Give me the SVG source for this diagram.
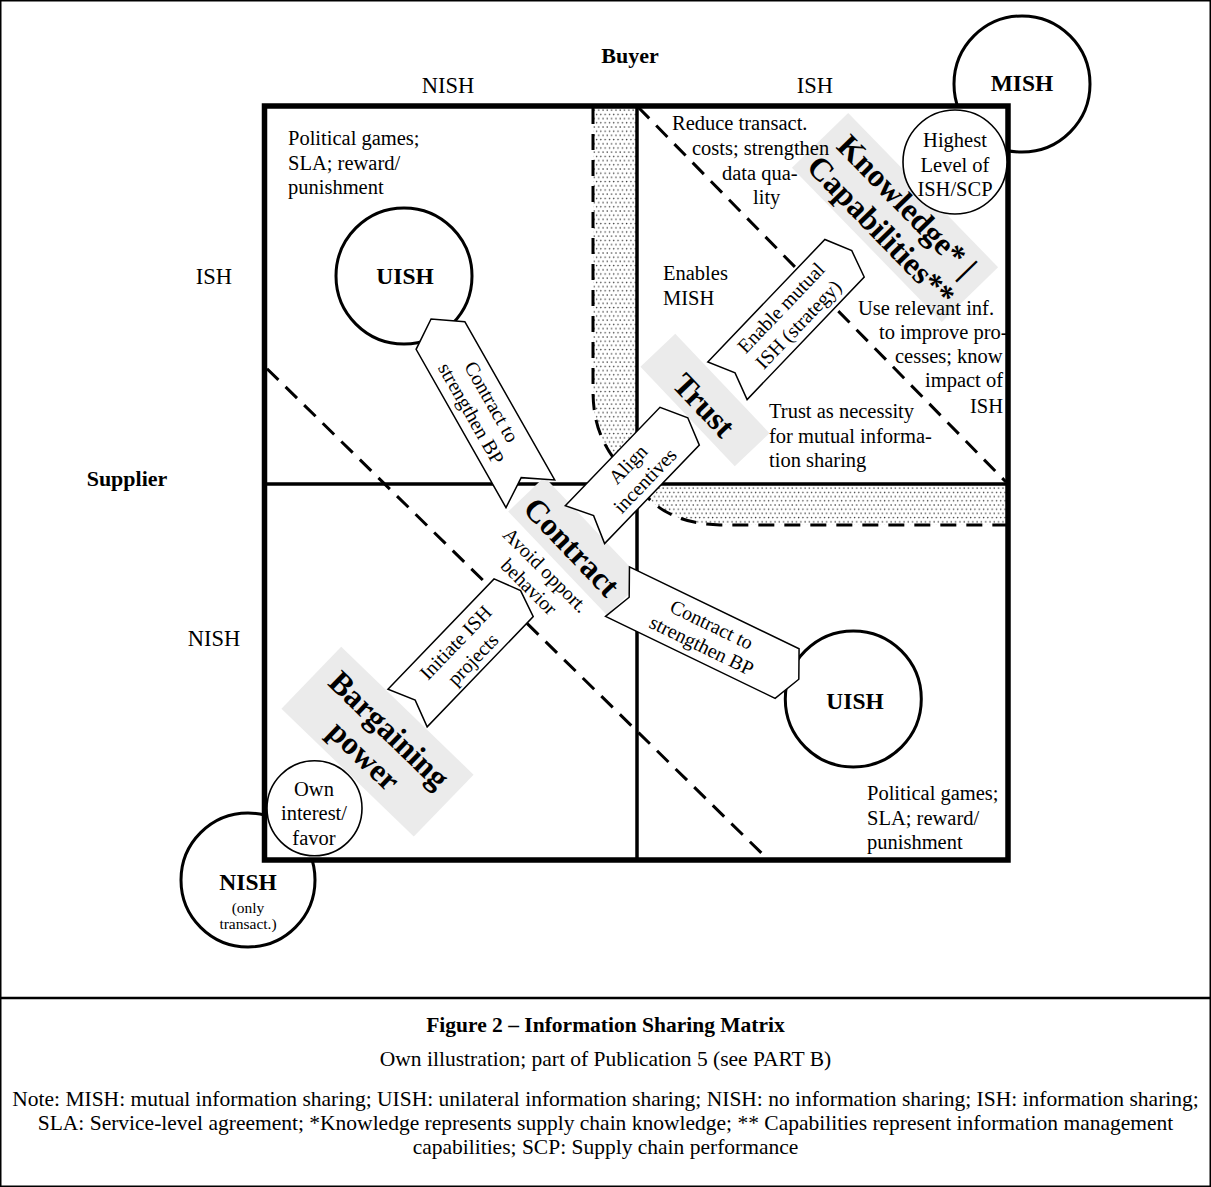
<svg xmlns="http://www.w3.org/2000/svg" width="1211" height="1187" viewBox="0 0 1211 1187">
  <defs>
    <!-- stipple used for the two transition bands -->
    <pattern id="dots" width="4.3" height="8.4" patternUnits="userSpaceOnUse">
      <rect width="4.3" height="8.4" fill="#fff"/>
      <circle cx="1" cy="1" r="0.75" fill="#333"/>
      <circle cx="3.15" cy="5.2" r="0.75" fill="#333"/>
    </pattern>
  </defs>
  <style>
    text { font-family: 'Liberation Serif', 'Times New Roman', serif; fill: #000; }
    .t { font-size: 20.5px; }
    .ax { font-size: 22.5px; text-anchor: middle; }
    .hd { font-size: 22px; font-weight: bold; text-anchor: middle; }
    .nd { font-size: 23.5px; font-weight: bold; text-anchor: middle; }
    .lb { font-size: 32px; font-weight: bold; text-anchor: middle; }
    .at { font-size: 20px; text-anchor: middle; }
    .c { text-anchor: middle; }
    .cap { font-size: 21.5px; text-anchor: middle; }
    .big { fill: #fff; stroke: #000; stroke-width: 3; }
    .sm { fill: #fff; stroke: #000; stroke-width: 1.6; }
    .arr { fill: #fff; stroke: #000; stroke-width: 1.5; stroke-linejoin: miter; }
    .dash { fill: none; stroke: #000; stroke-width: 3; stroke-dasharray: 16 10; }
    .box { fill: #ebebeb; }
    .band { fill: url(#dots); }
  </style>

  <!-- page and frame -->
  <rect width="1211" height="1187" fill="#fff"/>
  <rect x="0.75" y="0.75" width="1209.5" height="1185.5" fill="none" stroke="#000" stroke-width="1.5"/>
  <line x1="0" y1="998" x2="1211" y2="998" stroke="#000" stroke-width="2.5"/>

  <!-- corner nodes sitting behind the matrix -->
  <g id="node-mish">
    <circle class="big" cx="1022" cy="84" r="68"/>
    <text class="nd" x="1022" y="90.5">MISH</text>
  </g>
  <g id="node-nish">
    <circle class="big" cx="248" cy="880" r="67"/>
    <text class="nd" x="248" y="890">NISH</text>
    <text class="c" x="248" y="912.5" style="font-size:15.5px">(only</text>
    <text class="c" x="248" y="929" style="font-size:15.5px">transact.)</text>
  </g>

  <!-- matrix: field, bands, dashed boundaries, grid -->
  <g id="matrix">
    <rect x="264.5" y="106" width="743.5" height="754" fill="#fff"/>
    <path class="band" d="M593,106 L593,390 C593,420 600,445 625,472 L637,484 L637,106 Z"/>
    <path class="band" d="M637,484 C650,505 675,524 720,525 L1008,525 L1008,484 Z"/>
    <path class="dash" d="M593,108 L593,390 C593,420 600,445 625,472"/>
    <path class="dash" d="M640,488 C652,506 676,524 720,525 L1006,525"/>
    <line class="dash" x1="638" y1="107" x2="1006" y2="482"/>
    <line class="dash" x1="267" y1="368.7" x2="766.5" y2="858"/>
    <line x1="637" y1="106" x2="637" y2="860" stroke="#000" stroke-width="3.5"/>
    <line x1="264.5" y1="484" x2="1008" y2="484" stroke="#000" stroke-width="3.5"/>
    <rect x="264.5" y="106" width="743.5" height="754" fill="none" stroke="#000" stroke-width="5.5"/>
  </g>

  <!-- unilateral sharing nodes -->
  <g id="node-uish-top">
    <circle class="big" cx="404" cy="276" r="68"/>
    <text class="nd" x="405" y="284">UISH</text>
  </g>
  <g id="node-uish-bottom">
    <circle class="big" cx="853.3" cy="699" r="68"/>
    <text class="nd" x="855" y="709">UISH</text>
  </g>

  <!-- shaded driver labels -->
  <g id="node-knowledge" transform="translate(895,217.5) rotate(45.8)">
    <rect class="box" x="-107.5" y="-39.25" width="215" height="78.5"/>
    <text class="lb" x="0" y="-6">Knowledge* |</text>
    <text class="lb" x="0" y="30">Capabilities**</text>
  </g>
  <g id="node-trust" transform="translate(705,400) rotate(46.5)">
    <rect class="box" x="-68.5" y="-24" width="137" height="48"/>
    <text class="lb" x="3" y="15">Trust</text>
  </g>
  <g id="node-contract" transform="translate(575.6,546.1) rotate(46.4)">
    <rect class="box" x="-71.5" y="-25" width="143" height="50"/>
    <text class="lb" x="-2" y="14">Contract</text>
  </g>
  <g id="note-contract" transform="translate(537,578.8) rotate(45)">
    <text class="at" x="0" y="-5.5">Avoid opport.</text>
    <text class="at" x="0" y="18">behavior</text>
  </g>
  <g id="node-bargaining" transform="translate(377.5,741.7) rotate(44)">
    <rect class="box" x="-92" y="-43" width="184" height="86"/>
    <text class="lb" x="0" y="-6">Bargaining</text>
    <text class="lb" x="0" y="30">power</text>
  </g>

  <!-- quadrant notes, written over the shaded labels -->
  <g id="notes" class="t">
    <text x="288" y="145">Political games;</text>
    <text x="288" y="170">SLA; reward/</text>
    <text x="288" y="194">punishment</text>

    <text x="672" y="130">Reduce transact.</text>
    <text x="692" y="155">costs; strengthen</text>
    <text x="722" y="179.5">data qua-</text>
    <text x="753" y="204">lity</text>

    <text x="663" y="280">Enables</text>
    <text x="663" y="304.5">MISH</text>

    <text x="858" y="315">Use relevant inf.</text>
    <text x="879" y="339">to improve pro-</text>
    <text x="895" y="363">cesses; know</text>
    <text x="925" y="387">impact of</text>
    <text x="970" y="413">ISH</text>

    <text x="769" y="418">Trust as necessity</text>
    <text x="769" y="443">for mutual informa-</text>
    <text x="769" y="467">tion sharing</text>

    <text x="867" y="800">Political games;</text>
    <text x="867" y="824.5">SLA; reward/</text>
    <text x="867" y="848.5">punishment</text>
  </g>

  <!-- connectors: block arrows with notched tails -->
  <g id="connectors">
    <g transform="translate(485.4,414.6) rotate(60.4)">
      <path class="arr" d="M-91,-28 L91,-28 L72.5,0 L91,28 L-91,28 L-110,0 Z"/>
      <text class="at" x="-8" y="-5">Contract to</text>
      <text class="at" x="-8" y="18.5">strengthen BP</text>
    </g>
    <g transform="translate(632.3,475.4) rotate(-46.1)">
      <path class="arr" d="M-68.3,-27.3 L68.3,-27.3 L80,0 L68.3,27.3 L-68.3,27.3 L-55.8,0 Z"/>
      <text class="at" x="5" y="-4">Align</text>
      <text class="at" x="5" y="19.5">incentives</text>
    </g>
    <g transform="translate(786,319.5) rotate(-46.3)">
      <path class="arr" d="M-84.75,-27.2 L84.75,-27.2 L95.2,0 L84.75,27.2 L-84.75,27.2 L-73.75,0 Z"/>
      <text class="at" x="5" y="-5">Enable mutual</text>
      <text class="at" x="5" y="19">ISH (strategy)</text>
    </g>
    <g transform="translate(702.3,632.6) rotate(25.8)">
      <path class="arr" d="M-94.2,-27.5 L94.2,-27.5 L107.2,0 L94.2,27.5 L-94.2,27.5 L-81.2,0 Z"/>
      <text class="at" x="5" y="-4.5">Contract to</text>
      <text class="at" x="5" y="18.5">strengthen BP</text>
    </g>
    <g transform="translate(460.6,652.9) rotate(-46.1)">
      <path class="arr" d="M-76.5,-27.2 L76.5,-27.2 L86.5,0 L76.5,27.2 L-76.5,27.2 L-65.5,0 Z"/>
      <text class="at" x="4" y="-4">Initiate ISH</text>
      <text class="at" x="4" y="20">projects</text>
    </g>
  </g>

  <!-- small corner nodes inside the matrix -->
  <g id="node-highest">
    <circle class="sm" cx="955" cy="162" r="52"/>
    <text class="t c" x="955" y="147">Highest</text>
    <text class="t c" x="955" y="171.5">Level of</text>
    <text class="t c" x="955" y="196">ISH/SCP</text>
  </g>
  <g id="node-own-interest">
    <circle class="sm" cx="314.5" cy="808.3" r="47.5"/>
    <text class="t c" x="314" y="795.5">Own</text>
    <text class="t c" x="314" y="820">interest/</text>
    <text class="t c" x="314" y="844.5">favor</text>
  </g>

  <!-- axis labels -->
  <g id="axes">
    <text class="hd" x="630" y="63">Buyer</text>
    <text class="ax" x="448" y="92.5">NISH</text>
    <text class="ax" x="815" y="92.5">ISH</text>
    <text class="hd" x="127" y="485.5">Supplier</text>
    <text class="ax" x="214" y="284">ISH</text>
    <text class="ax" x="214" y="646">NISH</text>
  </g>

  <!-- caption -->
  <g id="caption">
    <text class="cap" x="605.5" y="1032" style="font-weight:bold">Figure 2 – Information Sharing Matrix</text>
    <text class="cap" x="605.5" y="1066">Own illustration; part of Publication 5 (see PART B)</text>
    <text class="cap" x="605.5" y="1106">Note: MISH: mutual information sharing; UISH: unilateral information sharing; NISH: no information sharing; ISH: information sharing;</text>
    <text class="cap" x="605.5" y="1130">SLA: Service-level agreement; *Knowledge represents supply chain knowledge; ** Capabilities represent information management</text>
    <text class="cap" x="605.5" y="1154">capabilities; SCP: Supply chain performance</text>
  </g>
</svg>
